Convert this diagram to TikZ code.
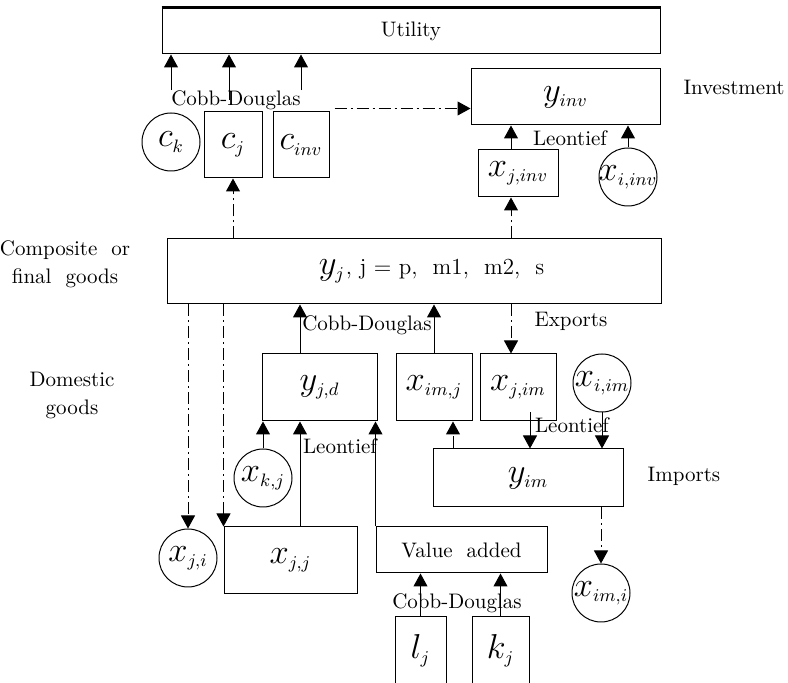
\documentclass[tikz,border=0pt]{standalone}
\usepackage{tikz}
\usetikzlibrary{arrows.meta,positioning}
\DeclareMathSizes{16}{16}{9.5}{7}
\tikzset{
    block/.style={rectangle,draw,line width=0.5pt,inner sep=0pt},
    good/.style={circle,draw,line width=0.5pt,inner sep=0pt,minimum size=29pt},
    note/.style={inner sep=0pt,font=\fontsize{10.5}{14}\selectfont,align=center},
    pre/.style={-{Triangle[length=6.5pt,width=7pt]},line width=0.5pt},
    flow/.style={pre,dash pattern=on 6pt off 2pt on 1pt off 2pt}
}
\newcommand{\bigvar}[1]{\makebox[0pt]{\fontsize{16}{19}\selectfont$#1$}}

\begin{document}
\begin{tikzpicture}[x=0.5pt,y=-0.5pt]
\useasboundingbox (0,0) rectangle (788,683);
\clip (0,0) rectangle (788,683);

% consumption and investment
\node[block,minimum width=249pt,minimum height=23pt,font=\fontsize{10.5}{13}\selectfont] (utility) at (411,31) {Utility};
\draw[line width=1.2pt] (utility.north west) -- (utility.north east);
\node[good]  (ck) at (171,142) {\bigvar{c_k}};
\node[block,minimum width=29pt,minimum height=33pt] (cj) at (233,145) {\bigvar{c_j}};
\node[block,minimum width=28pt,minimum height=33pt,right=5pt of cj] (cinv) {\bigvar{c_{inv}}};
\node[block,minimum width=94.5pt,minimum height=28pt] (yinv) at (565.5,97) {\bigvar{y_{inv}}};
\node[block,minimum width=40pt,minimum height=23.5pt] (xjinv) at (518,173.5) {\bigvar{x_{j,inv}}};
\node[good]  (xiinv) at (628,177) {\bigvar{x_{i,inv}}};

% composite goods
\node[block,minimum width=247pt,minimum height=32.5pt] (comp) at (414,271.5)
    {\hspace*{24pt}\bigvar{y_j}\hspace{7pt}{\fontsize{11.5}{14}\selectfont, j = p, \ m1, \ m2, \ s}};

% domestic and imported goods
\node[block,minimum width=57.5pt,minimum height=33.5pt] (yjd) at (319.5,387.5) {\bigvar{y_{j,d}}};
\node[block,minimum width=38pt,minimum height=33.5pt,right=9pt of yjd] (ximj) {\bigvar{x_{im,j}}};
\node[block,minimum width=38pt,minimum height=33.5pt,right=3.5pt of ximj] (xjim) {\bigvar{x_{j,im}}};
\node[good]  (xiim) at (602,383) {\bigvar{x_{i,im}}};
\node[block,minimum width=95pt,minimum height=29pt] (yim) at (528,478) {\bigvar{y_{im}}};
\node[good]  (xkj) at (263,478) {\bigvar{x_{k,j}}};
\node[good]  (xji) at (188,558) {\bigvar{x_{j,i}}};
\node[block,minimum width=66.5pt,minimum height=33.5pt] (xjj) at (290.5,560.5) {\bigvar{x_{j,j}}};
\node[block,minimum width=85.5pt,minimum height=23pt,font=\fontsize{10.5}{13}\selectfont] (va) at (461.5,550) {Value\ \ added};
\node[good]  (ximi) at (601,593) {\bigvar{x_{im,i}}};
\node[block,minimum width=25.5pt,minimum height=34pt] (lj) at (420.5,651) {\bigvar{l_j}};
\node[block,minimum width=28.5pt,minimum height=34pt,right=12.5pt of lj] (kj) {\bigvar{k_j}};

% texts
\node[note] (cdtop) at (236,100) {Cobb-Douglas};
\node[note] (cdmid) at (367,325) {Cobb-Douglas};
\node[note] (cdlow) at (457,603) {Cobb-Douglas};
\node[note] (leoinv) at (570,138) {Leontief};
\node[note] (leod) at (340,446) {Leontief};
\node[note] (leoim) at (572,425) {Leontief};
\node[note] (invest) at (734,87) {Investment};
\node[note] (exports) at (571,321) {Exports};
\node[note] (imports) at (684,476) {Imports};
\node[note] (compos) at (65,264) {Composite\ \ or\\final\ \ goods};
\node[note] (domest) at (72,395) {Domestic\\goods};

% connectors
\coordinate (cjup) at ([xshift=-2pt]cj.north);
\draw[pre] (ck |- cdtop.north) -- (ck |- utility.south);
\draw[pre] (cjup |- cdtop.center) -- (cjup |- utility.south);
\draw[pre] (cinv |- cdtop.north) -- (cinv |- utility.south);
\coordinate (invin) at ([shift={(5,-3)}]cinv.north east);
\draw[flow] (invin) -- (invin -| yinv.west);
\coordinate (jinv) at ([xshift=-3.5pt]xjinv.north);
\draw[pre] (jinv) -- (jinv |- yinv.south);
\draw[pre] (xiinv.north) -- (xiinv.north |- yinv.south);
\draw[flow] (jinv |- comp.north) -- (jinv |- xjinv.south);
\draw[flow] (cj.south |- comp.north) -- (cj.south);

\draw[flow] (xji.north |- comp.south) -- (xji.north);
\draw[flow] (xjj.north west |- comp.south) -- (xjj.north west);
\coordinate (dup) at ([xshift=-9.75pt]yjd.north);
\draw[pre] (dup) -- (dup |- comp.south);
\draw[pre] (ximj.north) -- (ximj.north |- comp.south);
\coordinate (jim) at ([xshift=-3.5pt]xjim.north);
\draw[flow] (jim |- comp.south) -- (jim);

\draw[pre] (xkj.north) -- (xkj.north |- yjd.south);
\draw[pre] (dup |- xjj.north) -- (dup |- yjd.south);
\draw[pre] (va.north west) -- (va.north west |- yjd.south);
\coordinate (jimdown) at ([xshift=6pt,yshift=4.5pt]xjim.south);
\draw[pre] (jimdown) -- (jimdown |- yim.north);
\draw[pre] (xiim.south) -- (xiim.south |- yim.north);
\coordinate (imj) at ([xshift=9.5pt]ximj.south);
\draw[flow] (imj |- yim.north) -- (imj);
\draw[flow] (ximi.north |- yim.south) -- (ximi.north);

\draw[pre] (lj.north) -- (lj.north |- va.south);
\draw[pre] (kj.north) -- (kj.north |- va.south);

\end{tikzpicture}
\end{document}
